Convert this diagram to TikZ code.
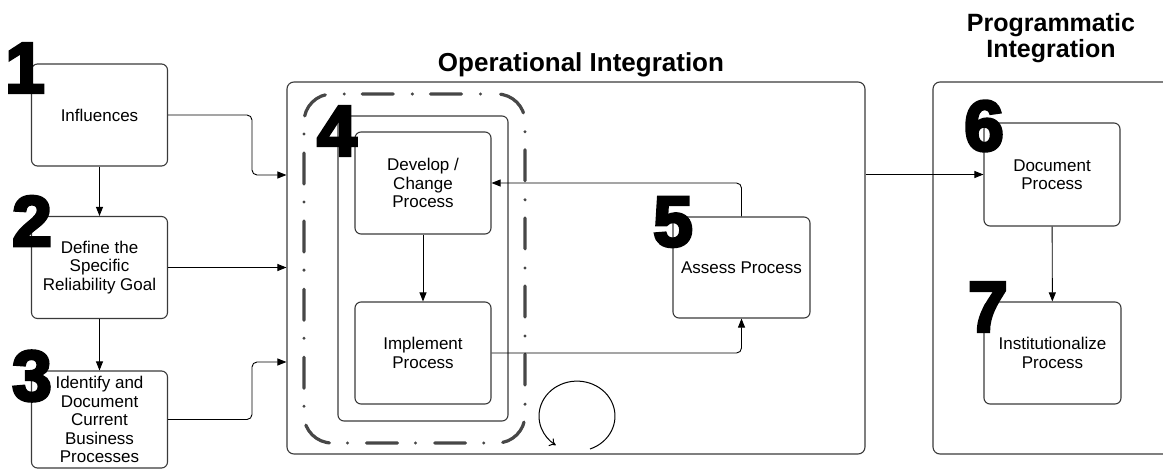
\documentclass[tikz,border=0pt]{standalone}
\usepackage{fontspec}
\setmainfont{Liberation Sans}
\newfontfamily\bignum{Liberation Sans}[FakeBold=4.5]
\usetikzlibrary{arrows.meta}
\definecolor{edgegray}{HTML}{3A3A3A}
\definecolor{framegray}{HTML}{474747}

\begin{document}
\begin{tikzpicture}[x=1pt,y=-1pt,
  proc/.style={draw=edgegray, line width=1.1pt, rounded corners=6pt,
    minimum width=136pt, minimum height=102pt, align=center, inner sep=2pt,
    font=\fontsize{17}{18.5}\selectfont},
  panel/.style={draw=edgegray, line width=1.1pt, rounded corners=7pt, inner sep=0pt},
  loopframe/.style={draw=framegray, line width=3.2pt, line cap=round,
    rounded corners=28pt, inner sep=0pt,
    dash pattern=on 31pt off 18pt on 0.1pt off 19pt, dash phase=32.5pt},
  arr/.style={draw=black, line width=0.9pt, -{Triangle[length=9pt,width=7pt]}},
  loop/.style={draw=black, line width=1pt, -{To[length=6pt,width=9pt]}},
  digit/.style={inner sep=0pt, font={\bignum\bfseries\fontsize{71}{71}\selectfont}},
  heading/.style={inner sep=0pt, align=center,
    font={\bfseries\fontsize{26}{26}\selectfont}}]
\useasboundingbox (0,0) rectangle (1163,471);
\clip (0,0) rectangle (1163,471);

% containers
\node[panel, minimum width=578pt, minimum height=372pt] (oper) at (576,268) {};
\node[panel, minimum width=254pt, minimum height=372pt] (prog) at (1060,268) {};
\node[heading, anchor=base] (opertitle) at (581,71) {Operational Integration};
\node[heading, anchor=base, font={\bfseries\fontsize{25}{25.5}\selectfont}] (progtitle) at (1051,57) {Programmatic\\Integration};

% iteration loop of steps 4
\node[loopframe, minimum width=221pt, minimum height=349pt] (cycle) at (414.5,268.5) {};
\node[panel, rounded corners=6pt, minimum width=170pt, minimum height=305pt] (group) at (423,268.5) {};

% left column
\node[proc] (infl) at (99.5,115) {Influences};
\node[proc] (goal) at (99.5,267.5) {Define the\\Specific\\Reliability Goal};
\node[proc, minimum height=97pt] (ident) at (99.5,419.5) {Identify and\\Document\\Current\\Business\\Processes};

% operational steps
\node[proc] (devel) at (423,183) {Develop /\\Change\\Process};
\node[proc] (impl) at (423,353) {Implement\\Process};
\node[proc, minimum width=137pt, minimum height=101pt] (assess) at (741.5,267.5) {Assess Process};

% programmatic steps
\node[proc, minimum height=103pt] (docu) at (1052,174.5) {Document\\Process};
\node[proc, minimum width=137pt] (inst) at (1052.5,353) {Institutionalize\\Process};

% connectors
\draw[arr] (infl) -- (goal);
\draw[arr] (goal) -- (ident);
\draw[arr, rounded corners=5pt] (infl.east) -- (252,115) |- (oper.west |- 0,175);
\draw[arr] (goal.east) -- (goal.east -| oper.west);
\draw[arr, rounded corners=5pt] (ident.east) -- (252,419.5) |- (oper.west |- 0,362);
\draw[arr] (devel) -- (impl);
\draw[arr, rounded corners=5pt] (assess.north) |- (devel.east);
\draw[arr, rounded corners=5pt] (impl.east) -| (assess.south);
\draw[arr] (oper.east |- docu.west) -- (docu.west);
\draw[arr] (docu) -- (inst);
\draw[loop] (590,449) arc[start angle=-70, end angle=236, x radius=38pt, y radius=35pt];

% step numbers
\node[digit] (n1) at (25,68) {1};
\node[digit] (n2) at (32,221) {2};
\node[digit] (n3) at (32,376) {3};
\node[digit] (n4) at (337,131) {4};
\node[digit] (n5) at (673,222) {5};
\node[digit] (n6) at (984,126) {6};
\node[digit] (n7) at (988,307) {7};
\end{tikzpicture}
\end{document}
